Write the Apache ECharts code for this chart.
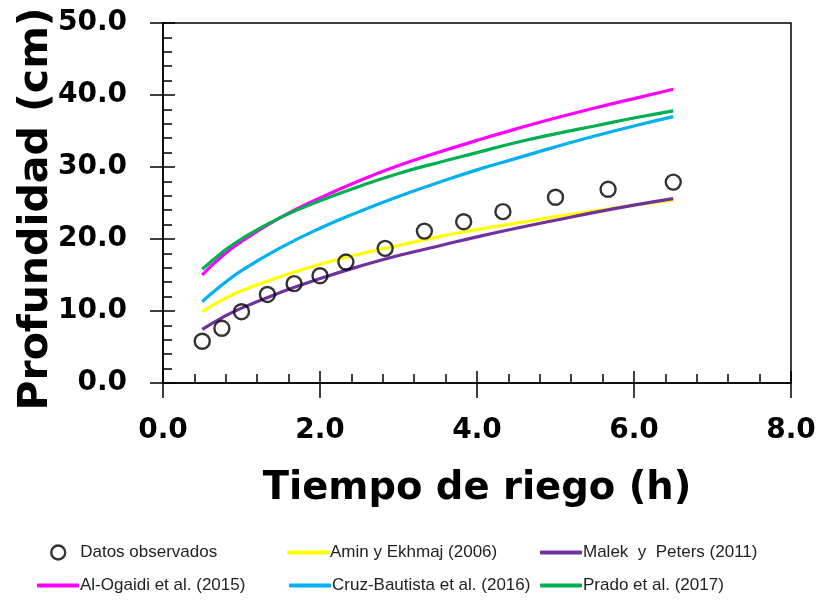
<!DOCTYPE html>
<html>
<head>
<meta charset="utf-8">
<script src="https://cdn.jsdelivr.net/npm/echarts@6/dist/echarts.min.js"></script>
<style>
html,body{margin:0;padding:0;background:#fff;}
#chart{width:819px;height:606px;}
</style>
</head>
<body>
<div id="chart"></div>
<script>
// Observed data
const obsX = [0.5, 0.75, 1.0, 1.33, 1.67, 2.0, 2.33, 2.83, 3.33, 3.83, 4.33, 5.0, 5.67, 6.5];
const obsY = [5.8, 7.6, 9.9, 12.3, 13.8, 14.9, 16.8, 18.7, 21.1, 22.4, 23.8, 25.8, 26.9, 27.9];
// Model curves, sampled
const modelX = [0.5, 0.75, 1.0, 1.5, 2.0, 2.5, 3.0, 3.5, 4.0, 4.5, 5.0, 5.5, 6.0, 6.5];
const aminY   = [9.9, 11.5, 12.8, 14.8, 16.5, 17.9, 19.1, 20.3, 21.3, 22.2, 23.1, 23.9, 24.7, 25.4];
const malekY  = [7.45, 9.05, 10.4, 12.6, 14.5, 16.2, 17.7, 19.0, 20.3, 21.5, 22.6, 23.7, 24.7, 25.6];
const ogaidiY = [15.0, 17.6, 19.65, 23.0, 25.7, 28.1, 30.2, 32.0, 33.7, 35.3, 36.8, 38.2, 39.5, 40.8];
const cruzY   = [11.3, 13.6, 15.6, 18.8, 21.5, 23.8, 25.9, 27.8, 29.6, 31.2, 32.8, 34.3, 35.7, 37.0];
const pradoY  = [15.8, 18.1, 20.0, 23.0, 25.3, 27.3, 29.1, 30.6, 32.0, 33.4, 34.6, 35.7, 36.8, 37.8];
const names = ["Datos observados", "Amin y Ekhmaj (2006)", "Malek  y  Peters (2011)",
               "Al-Ogaidi et al. (2015)", "Cruz-Bautista et al. (2016)", "Prado et al. (2017)"];
const colors = ["#000000", "#FFFF00", "#7030A0", "#FF00FF", "#00B0F0", "#00B050"];
const xTitle = "Tiempo de riego (h)";
const yTitle = "Profundidad (cm)";

const zip = (xs, ys) => xs.map((x, i) => [x, ys[i]]);
const chart = echarts.init(document.getElementById('chart'));

const gridPos = {left: 163, top: 23, width: 628, height: 360};
const labelFont = {fontFamily: 'DejaVu Sans', fontWeight: 'bold', fontSize: 28, color: '#000'};
const axisLineStyle = {color: '#000', width: 1.5};

function lineSeries(i, ys) {
  return {
    name: names[i], type: 'line', xAxisIndex: 0, yAxisIndex: 0,
    data: zip(modelX, ys), smooth: true, symbol: 'none',
    lineStyle: {color: colors[i], width: 3.2}, itemStyle: {color: colors[i]},
    z: 2
  };
}

const legendFont = {fontFamily: 'Liberation Sans', fontSize: 17, color: '#222'};
function legendItem(i, left, top, isCircle) {
  const l = {
    data: [names[i]], left: left, top: top, padding: 0,
    itemWidth: isCircle ? 14 : 42, itemHeight: isCircle ? 14 : 4,
    icon: isCircle ? 'circle' : 'roundRect',
    textStyle: Object.assign({}, legendFont, isCircle ? {padding: [0, 0, 0, 10]} : {padding: [0, 0, 0, -4]}),
    selectedMode: false
  };
  if (isCircle) {
    l.itemStyle = {color: 'rgba(0,0,0,0)', borderColor: '#000', borderWidth: 2.4};
  }
  return l;
}

const option = {
  animation: false,
  backgroundColor: '#fff',
  grid: [
    Object.assign({show: true, borderColor: '#000', borderWidth: 1.5, backgroundColor: 'transparent'}, gridPos),
    Object.assign({}, gridPos)
  ],
  xAxis: [
    {
      type: 'value', gridIndex: 0, min: 0, max: 8, interval: 2,
      axisLine: {show: true, lineStyle: axisLineStyle},
      axisTick: {show: true, inside: true, length: 12, lineStyle: axisLineStyle},
      minorTick: {show: true, splitNumber: 5, length: 9, lineStyle: axisLineStyle},
      splitLine: {show: false},
      axisLabel: Object.assign({margin: 34, formatter: v => v.toFixed(1)}, labelFont),
      name: xTitle, nameLocation: 'middle', nameGap: 86, nameMoveOverlap: false,
      nameTextStyle: {fontFamily: 'DejaVu Sans', fontWeight: 'bold', fontSize: 38.5, color: '#000'}
    },
    {
      type: 'value', gridIndex: 1, min: 0, max: 8, interval: 2,
      axisLine: {show: false},
      axisTick: {show: true, inside: false, length: 15, lineStyle: axisLineStyle},
      axisLabel: {show: false}, splitLine: {show: false}
    }
  ],
  yAxis: [
    {
      type: 'value', gridIndex: 0, min: 0, max: 50, interval: 10,
      axisLine: {show: true, lineStyle: axisLineStyle},
      axisTick: {show: true, inside: true, length: 12, lineStyle: axisLineStyle},
      minorTick: {show: true, splitNumber: 5, length: 9, lineStyle: axisLineStyle},
      splitLine: {show: false},
      axisLabel: Object.assign({margin: 36, formatter: v => v.toFixed(1)}, labelFont),
      name: yTitle, nameLocation: 'middle', nameGap: 106, nameRotate: 90, nameMoveOverlap: false,
      nameTextStyle: {fontFamily: 'DejaVu Sans', fontWeight: 'bold', fontSize: 41, color: '#000', padding: [0, 12, 0, 0]}
    },
    {
      type: 'value', gridIndex: 1, min: 0, max: 50, interval: 10,
      axisLine: {show: false},
      axisTick: {show: true, inside: false, length: 13, lineStyle: axisLineStyle},
      axisLabel: {show: false}, splitLine: {show: false}
    }
  ],
  legend: [
    legendItem(0, 50, 544, true),
    legendItem(1, 287, 544, false),
    legendItem(2, 540, 544, false),
    legendItem(3, 37, 577, false),
    legendItem(4, 289, 577, false),
    legendItem(5, 540, 577, false)
  ],
  series: [
    {
      name: names[0], type: 'scatter', xAxisIndex: 0, yAxisIndex: 0,
      data: zip(obsX, obsY), symbol: 'circle', symbolSize: 15,
      itemStyle: {color: 'rgba(0,0,0,0)', borderColor: '#000', borderWidth: 2.4},
      z: 5
    },
    lineSeries(1, aminY),
    lineSeries(2, malekY),
    lineSeries(3, ogaidiY),
    lineSeries(4, cruzY),
    lineSeries(5, pradoY)
  ]
};
chart.setOption(option);
</script>
</body>
</html>
